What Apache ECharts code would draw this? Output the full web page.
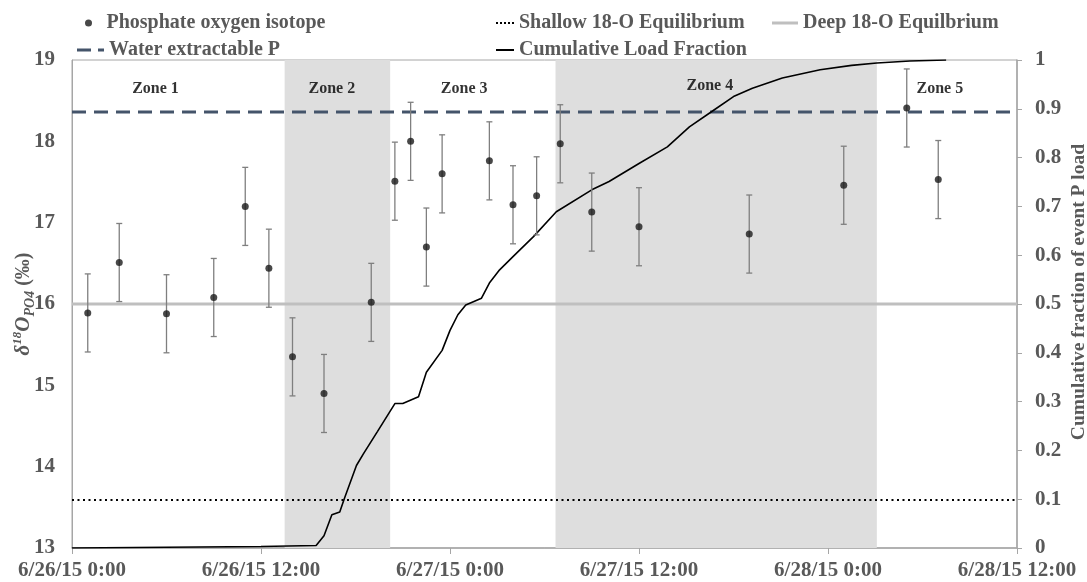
<!DOCTYPE html>
<html><head><meta charset="utf-8">
<script src="https://cdn.jsdelivr.net/npm/echarts@6/dist/echarts.min.js"></script>
<style>html,body{margin:0;padding:0;background:#fff}#c{width:1087px;height:582px}</style>
</head><body><div id="c"></div>
<script>
// x axis: hours since 6/26/15 0:00
const xTickLabels = ['6/26/15 0:00','6/26/15 12:00','6/27/15 0:00','6/27/15 12:00','6/28/15 0:00','6/28/15 12:00'];
const sampleHours = [1,3,6,9,11,12.5,14,16,19,20.5,21.5,22.5,23.5,26.5,28,29.5,31,33,36,43,49,53,55];
const d18O       = [15.89,16.51,15.88,16.08,17.20,16.44,15.35,14.90,16.02,17.51,18.00,16.70,17.60,17.76,17.22,17.33,17.97,17.13,16.95,16.86,17.46,18.41,17.53];
const d18OErr    = [0.48,0.48,0.48,0.48,0.48,0.48,0.48,0.48,0.48,0.48,0.48,0.48,0.48,0.48,0.48,0.48,0.48,0.48,0.48,0.48,0.48,0.48,0.48];
const loadHours    = [0,4,8,12,15.5,16,16.5,17,17.3,18.06,18.5,19.4,20.5,21,22,22.5,23.5,24,24.5,25,26,26.5,27.15,28,29.3,30.75,33,34.1,36,37.8,39.2,40.6,42,43.2,45.1,47.5,49.5,51.1,53.2,55.5];
const loadFraction = [0,0.001,0.002,0.003,0.005,0.025,0.068,0.074,0.102,0.169,0.193,0.239,0.296,0.296,0.31,0.36,0.405,0.446,0.478,0.498,0.512,0.543,0.57,0.597,0.638,0.689,0.734,0.751,0.788,0.822,0.863,0.894,0.925,0.942,0.963,0.98,0.989,0.994,0.998,1.0];
const waterExtractableP = 18.36;
const shallowEq = 13.59;
const deepEq = 16.0;
const shadedZones = [[13.5,20.2],[30.7,51.1]];
const zoneNames = ['Zone 1','Zone 2','Zone 3','Zone 4','Zone 5'];
const zoneLabelHours = [5.3,16.5,24.9,40.5,55.1];
const zoneLabelLevel = [18.64,18.64,18.64,18.68,18.64];
const xMin = 0, xMax = 60;

const FONT = 'Liberation Serif';
const GREY = '#595959';
const AXC = '#A6A6A6';

function hline(v){ return [[xMin, v],[xMax, v]]; }

const chart = echarts.init(document.getElementById('c'), null, {renderer:'canvas'});
const legendText = {fontFamily:FONT, fontWeight:700, fontSize:20, color:GREY};
function lg(name, left, top, w, h, icon){
  const o = {data:[name], left:left, top:top, padding:0, itemWidth:w, itemHeight:h, itemGap:0, textStyle:legendText, selectedMode:false};
  if (icon) o.icon = icon;
  return o;
}
chart.setOption({
  animation:false,
  backgroundColor:'#fff',
  legend:[
    lg('Phosphate oxygen isotope', 85, 13, 26, 7, 'circle'),
    lg('Shallow 18-O Equilibrium', 496, 13, 18, 2, 'path://M0,0h2v2h-2z M4,0h2v2h-2z M8,0h2v2h-2z M12,0h2v2h-2z M16,0h2v2h-2z'),
    lg('Deep 18-O Equilbrium', 772, 13, 26, 3, 'rect'),
    lg('Water extractable P', 77, 40, 27, 3, 'path://M0,0h14v3h-14z M21,0h6v3h-6z'),
    lg('Cumulative Load Fraction', 496, 40, 18, 2, 'rect')
  ],
  grid:{left:72, right:70, top:60, bottom:34, containLabel:false, outerBoundsMode:'none', show:true, borderColor:AXC, borderWidth:1, backgroundColor:'transparent'},
  xAxis:{type:'value', min:xMin, max:xMax, interval:12,
    axisLine:{lineStyle:{color:AXC, width:1.5}},
    axisTick:{show:true, length:6, lineStyle:{color:AXC}},
    splitLine:{show:false},
    axisLabel:{margin:12, fontFamily:FONT, fontWeight:'bold', fontSize:21, color:GREY,
      formatter:v=>xTickLabels[Math.round(v/12)]}
  },
  yAxis:[
    {type:'value', min:13, max:19, interval:1, position:'left',
      axisLine:{show:true, lineStyle:{color:AXC, width:1}},
      axisTick:{show:false}, splitLine:{show:false},
      axisLabel:{margin:17, fontFamily:FONT, fontWeight:'bold', fontSize:21, color:GREY},
      name:'{i|δ}{sup|18}{i|O}{sub|PO4}{n| (‰)}', nameLocation:'middle', nameRotate:90, nameGap:35, nameMoveOverlap:false,
      nameTextStyle:{rich:{
        i:{fontFamily:FONT, fontWeight:'bold', fontStyle:'italic', fontSize:21, color:GREY, lineHeight:26, verticalAlign:'middle'},
        sup:{fontFamily:FONT, fontWeight:'bold', fontStyle:'italic', fontSize:13, color:GREY, lineHeight:26, verticalAlign:'top', padding:[0,0,6,0]},
        sub:{fontFamily:FONT, fontWeight:'bold', fontStyle:'italic', fontSize:14, color:GREY, lineHeight:26, verticalAlign:'bottom', padding:[6,0,0,0]},
        n:{fontFamily:FONT, fontWeight:'bold', fontSize:20, color:GREY, lineHeight:26, verticalAlign:'middle'}
      }}
    },
    {type:'value', min:0, max:1, interval:0.1, position:'right',
      axisLine:{show:true, lineStyle:{color:AXC, width:1.5}},
      axisTick:{show:true, length:5, lineStyle:{color:AXC}}, splitLine:{show:false},
      axisLabel:{margin:18, fontFamily:FONT, fontWeight:'bold', fontSize:21, color:GREY},
      name:'Cumulative fraction of event P load', nameLocation:'middle', nameRotate:90, nameGap:52, nameMoveOverlap:false,
      nameTextStyle:{fontFamily:FONT, fontWeight:'bold', fontSize:19.5, color:GREY, padding:[0,0,0,24]}
    }
  ],
  series:[
    {name:'zones', type:'line', data:[], silent:true, z:0,
      markArea:{silent:true, itemStyle:{color:'#DEDEDE'}, data: shadedZones.map(z=>[{xAxis:z[0]},{xAxis:z[1]}])}},
    {name:'Deep 18-O Equilbrium', type:'line', data:hline(deepEq), showSymbol:false, symbol:'none', z:2,
      lineStyle:{color:'#BFBFBF', width:3}, itemStyle:{color:'#BFBFBF'}},
    {name:'Shallow 18-O Equilibrium', type:'line', data:hline(shallowEq), showSymbol:false, symbol:'none', z:2,
      lineStyle:{color:'#000', width:2, type:[2,3.5]}, itemStyle:{color:'#000'}},
    {name:'Water extractable P', type:'line', data:hline(waterExtractableP), showSymbol:false, symbol:'none', z:2,
      lineStyle:{color:'#44546A', width:3, type:[14,8]}, itemStyle:{color:'#44546A'}},
    {name:'Cumulative Load Fraction', type:'line', yAxisIndex:1, data:loadHours.map((h,i)=>[h, loadFraction[i]]),
      showSymbol:false, symbol:'none', z:3, lineStyle:{color:'#000', width:1.6}, itemStyle:{color:'#000'}},
    {name:'errorbars', type:'custom', silent:true, z:4,
      data: sampleHours.map((h,i)=>[h, d18O[i]-d18OErr[i], d18O[i]+d18OErr[i]]),
      encode:{x:0, y:[1,2]},
      renderItem:function(params, api){
        const x = api.value(0);
        const lo = api.coord([x, api.value(1)]);
        const hi = api.coord([x, api.value(2)]);
        const w = 3;
        const st = {stroke:'#7F7F7F', lineWidth:1.3};
        return {type:'group', children:[
          {type:'line', shape:{x1:lo[0], y1:lo[1], x2:hi[0], y2:hi[1]}, style:st},
          {type:'line', shape:{x1:lo[0]-w, y1:lo[1], x2:lo[0]+w, y2:lo[1]}, style:st},
          {type:'line', shape:{x1:hi[0]-w, y1:hi[1], x2:hi[0]+w, y2:hi[1]}, style:st}
        ]};
      }
    },
    {name:'Phosphate oxygen isotope', type:'scatter', z:5, symbol:'circle', symbolSize:7,
      data: sampleHours.map((h,i)=>[h, d18O[i]]), itemStyle:{color:'#1A1A1A'}},
    {name:'zoneLabels', type:'scatter', z:6, symbolSize:0, silent:true,
      data: zoneNames.map((n,i)=>({name:n, value:[zoneLabelHours[i], zoneLabelLevel[i]]})),
      label:{show:true, position:'inside', formatter:p=>p.name, fontFamily:FONT, fontWeight:'bold', fontSize:16, color:'#000'}}
  ]
});
</script></body></html>
